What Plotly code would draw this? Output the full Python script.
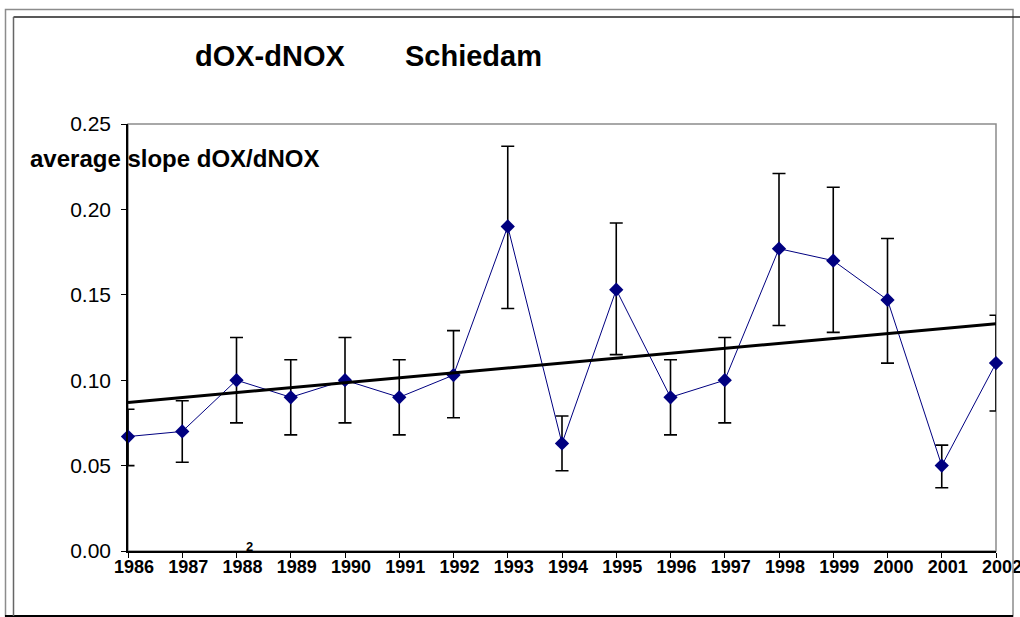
import plotly.graph_objects as go

# ---- data ----
years = [1986, 1987, 1988, 1989, 1990, 1991, 1992, 1993, 1994, 1995,
         1996, 1997, 1998, 1999, 2000, 2001, 2002]
slope = [0.067, 0.070, 0.100, 0.090, 0.100, 0.090, 0.103, 0.190, 0.063, 0.153,
         0.090, 0.100, 0.177, 0.170, 0.147, 0.050, 0.110]
upper = [0.083, 0.088, 0.125, 0.112, 0.125, 0.112, 0.129, 0.237, 0.079, 0.192,
         0.112, 0.125, 0.221, 0.213, 0.183, 0.062, 0.138]
lower = [0.050, 0.052, 0.075, 0.068, 0.075, 0.068, 0.078, 0.142, 0.047, 0.115,
         0.068, 0.075, 0.132, 0.128, 0.110, 0.037, 0.082]
trend_x = [1986, 2002]
trend_y = [0.087, 0.133]
y_ticks = [0.00, 0.05, 0.10, 0.15, 0.20, 0.25]
x_ticks = years

err_plus = [u - v for u, v in zip(upper, slope)]
err_minus = [v - l for v, l in zip(slope, lower)]

W, H = 1020, 617
L, R, T, B = 128, 996, 124, 551
FONT = "Liberation Sans, Arial, sans-serif"


def px(x):
    return (x - L) / (R - L)


def py(y):
    return (B - y) / (B - T)


fig = go.Figure()
fig.add_trace(go.Scatter(
    x=years, y=slope, mode="lines+markers",
    line=dict(color="#000080", width=1),
    marker=dict(symbol="diamond", size=11, color="#000080"),
    error_y=dict(type="data", symmetric=False, array=err_plus, arrayminus=err_minus,
                 color="black", thickness=1.6, width=6.5),
    cliponaxis=False, showlegend=False,
))
fig.add_trace(go.Scatter(
    x=trend_x, y=trend_y, mode="lines",
    line=dict(color="black", width=3), showlegend=False,
))

shapes = [
    # plot area border (gray)
    dict(type="rect", xref="paper", yref="paper", x0=0, x1=1, y0=0, y1=1,
         line=dict(color="#8c8c8c", width=1.5), layer="below"),
    # outer frames
    dict(type="rect", xref="paper", yref="paper", x0=px(5.5), x1=px(1013), y0=py(9.5), y1=py(616),
         line=dict(color="#8c8c8c", width=1.5)),
    dict(type="line", xref="paper", yref="paper", x0=px(5), x1=px(1013), y0=py(616), y1=py(616),
         line=dict(color="black", width=2)),
    dict(type="line", xref="paper", yref="paper", x0=px(13.5), x1=px(1020), y0=py(17), y1=py(17),
         line=dict(color="#222222", width=1.5)),
    dict(type="line", xref="paper", yref="paper", x0=px(13.5), x1=px(13.5), y0=py(17), y1=py(616),
         line=dict(color="#666666", width=1.5)),
]

annotations = [
    dict(text="<b>dOX-dNOX</b>", xref="paper", yref="paper", x=px(270), y=py(56),
         xanchor="center", yanchor="middle", showarrow=False,
         font=dict(family=FONT, size=29, color="black")),
    dict(text="<b>Schiedam</b>", xref="paper", yref="paper", x=px(473.5), y=py(56),
         xanchor="center", yanchor="middle", showarrow=False,
         font=dict(family=FONT, size=29, color="black")),
    dict(text="<b>average slope dOX/dNOX</b>", xref="paper", yref="paper", x=px(28), y=py(158),
         xanchor="left", yanchor="middle", showarrow=False,
         font=dict(family=FONT, size=24, color="black")),
    dict(text="<b>2</b>", xref="paper", yref="paper", x=px(249), y=py(546),
         xanchor="center", yanchor="middle", showarrow=False,
         font=dict(family=FONT, size=13, color="black")),
]

fig.update_layout(
    width=W, height=H, autosize=False,
    margin=dict(l=L, r=W - R, t=T, b=H - B, pad=0, autoexpand=False),
    paper_bgcolor="white", plot_bgcolor="white",
    shapes=shapes, annotations=annotations,
    font=dict(family=FONT, color="black"),
    xaxis=dict(range=[1986, 2002], tickvals=x_ticks, ticktext=[str(y) for y in x_ticks],
               automargin=False,
               showgrid=False, zeroline=False, showline=True, linecolor="black", linewidth=1.5,
               ticks="outside", ticklen=5, tickwidth=1.2, tickcolor="black",
               tickfont=dict(family=FONT, size=18, color="black", weight="bold"),
               ticklabelshift=6, ticklabelstandoff=-6, ticklabeloverflow="allow"),
    yaxis=dict(range=[0, 0.25], tickvals=y_ticks, tickformat=".2f",
               automargin=False,
               showgrid=False, zeroline=False, showline=True, linecolor="black", linewidth=1.5,
               ticks="outside", ticklen=5, tickwidth=1.2, tickcolor="black",
               tickfont=dict(family=FONT, size=21, color="black"),
               ticklabelstandoff=6),
)

fig.write_html("out.html",
               config={"responsive": False, "displayModeBar": False},
               default_width="1020px", default_height="617px",
               post_script="document.body.style.margin='0';document.body.style.overflow='hidden';")
